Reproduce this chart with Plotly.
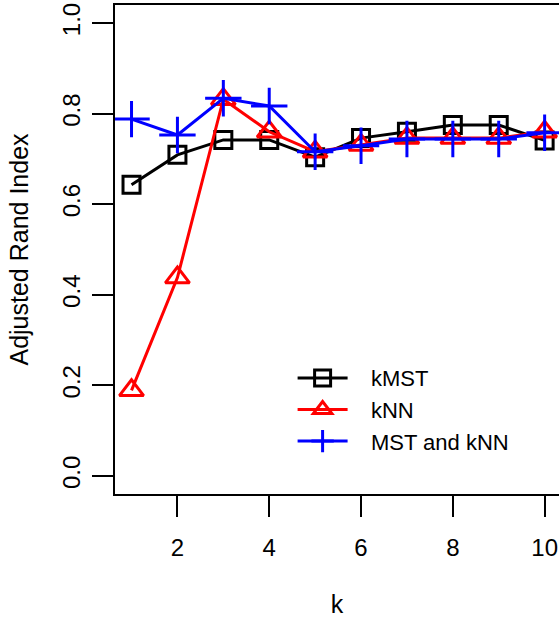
import plotly.graph_objects as go

k = [1, 2, 3, 4, 5, 6, 7, 8, 9, 10]
kmst = [0.643, 0.709, 0.742, 0.742, 0.704, 0.746, 0.760, 0.775, 0.775, 0.741]
knn = [0.189, 0.438, 0.832, 0.760, 0.716, 0.731, 0.746, 0.746, 0.746, 0.760]
mst_knn = [0.788, 0.753, 0.834, 0.817, 0.716, 0.729, 0.744, 0.744, 0.744, 0.758]

series_names = ["kMST", "kNN", "MST and kNN"]
x_ticks = [2, 4, 6, 8, 10]
y_ticks = [0.0, 0.2, 0.4, 0.6, 0.8, 1.0]
y_tick_labels = ["0.0", "0.2", "0.4", "0.6", "0.8", "1.0"]

FONT = "Liberation Sans, Arial, Helvetica, sans-serif"
FS = 24
PAD = "\u00a0\u00a0\u00a0"

fig = go.Figure()
fig.add_trace(go.Scatter(
    x=k, y=kmst, name=PAD + series_names[0], mode="lines+markers",
    line=dict(color="black", width=3),
    marker=dict(symbol="square-open", size=17, color="black", line=dict(width=3, color="black")),
    cliponaxis=False,
))
fig.add_trace(go.Scatter(
    x=k, y=knn, name=PAD + series_names[1], mode="lines+markers",
    line=dict(color="red", width=3),
    marker=dict(symbol="triangle-up-open", size=21, color="red", line=dict(width=3, color="red")),
    cliponaxis=False,
))
fig.add_trace(go.Scatter(
    x=k, y=mst_knn, name=PAD + series_names[2], mode="lines+markers",
    line=dict(color="blue", width=3),
    marker=dict(symbol="cross-thin-open", size=26, color="blue", line=dict(width=3, color="blue")),
    cliponaxis=False,
))

fig.update_layout(
    width=559, height=618,
    margin=dict(l=115, r=0, t=5, b=120),
    paper_bgcolor="white", plot_bgcolor="white",
    font=dict(family=FONT, size=FS, color="black"),
    showlegend=True,
    legend=dict(
        x=0.40, y=0.28, xanchor="left", yanchor="top",
        bgcolor="rgba(0,0,0,0)", borderwidth=0,
        font=dict(family=FONT, size=22, color="black"), itemwidth=50, tracegroupgap=0,
    ),
    xaxis=dict(
        range=[0.64, 10.313], tickmode="array", tickvals=x_ticks,
        ticks="outside", ticklen=21, tickwidth=2, tickcolor="black",
        showline=True, linewidth=2, linecolor="black", mirror=True,
        showgrid=False, zeroline=False, ticklabelstandoff=10,
        title=dict(text="k", standoff=40, font=dict(family=FONT, size=25, color="black")),
        tickfont=dict(family=FONT, size=FS, color="black"),
    ),
    yaxis=dict(
        range=[-0.04, 1.04], tickmode="array", tickvals=y_ticks, ticktext=y_tick_labels,
        ticks="outside", ticklen=21, tickwidth=2, tickcolor="black",
        showline=True, linewidth=2, linecolor="black", mirror=False,
        showgrid=False, zeroline=False, tickangle=-90, ticklabelstandoff=2,
        title=dict(text="Adjusted Rand Index", standoff=23,
                   font=dict(family=FONT, size=25, color="black")),
        tickfont=dict(family=FONT, size=FS, color="black"),
    ),
)

fig.write_html("out.html", post_script="document.body.style.margin='0';",
               config={"displayModeBar": False})
